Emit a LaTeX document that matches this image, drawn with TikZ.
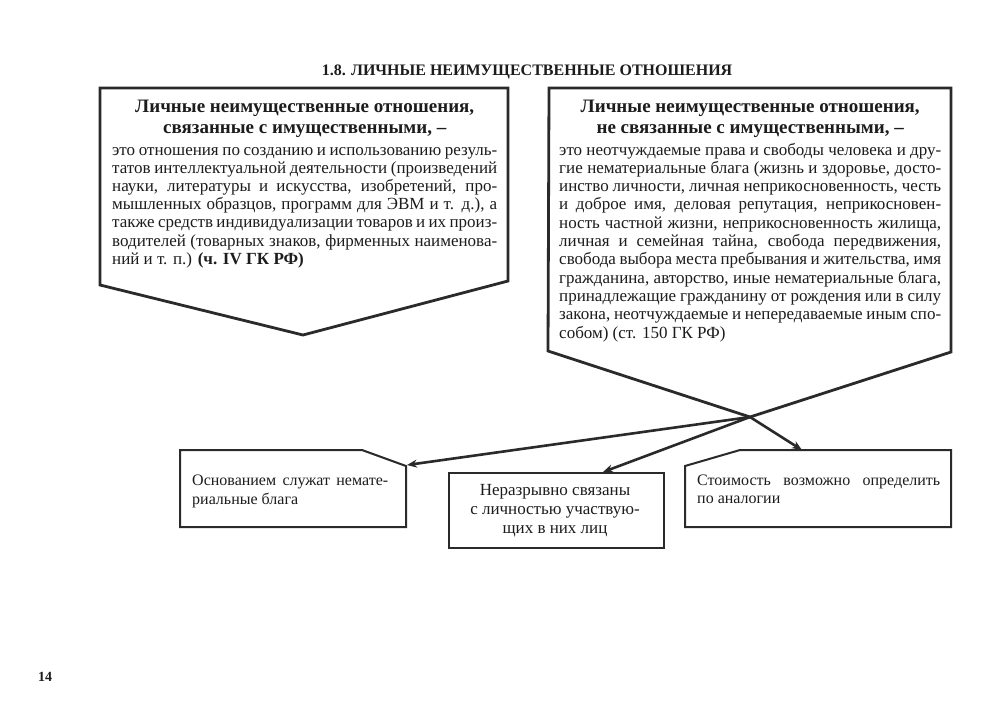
\documentclass[tikz,border=0pt]{standalone}
\usepackage{fontspec}
\setmainfont{Liberation Serif}
\usetikzlibrary{arrows.meta}
\definecolor{ink}{HTML}{2A2A2A}
\definecolor{txt}{HTML}{1C1C1C}
\newcommand{\jstl}[1]{\hbox to \hsize{#1}}
\newcommand{\ctrl}[1]{\hbox to \hsize{\hss#1\hss}}
\newcommand{\lftl}[1]{\hbox to \hsize{#1\hfil}}
\newcommand{\blk}[2]{\vtop{\hsize=#1\relax\parindent=0pt\lineskiplimit=-30pt\lineskip=0pt #2}}
\tikzset{
  pent/.style={draw=ink, line width=2.8pt, line join=miter, fill=white},
  boxline/.style={draw=ink, line width=2pt, line join=miter},
  conn/.style={draw=ink, line width=2.6pt, -{Stealth[length=10pt,width=8pt]}},
  txtnode/.style={inner sep=0pt, text=txt, anchor=base west},
}
\begin{document}
\begin{tikzpicture}[x=1pt,y=-1pt]
\useasboundingbox[fill=white] (0,0) rectangle (1000,710);

% title
\node[inner sep=0pt, text=txt, anchor=base, font=\fontsize{16}{19}\selectfont\bfseries] (title) at (527,75) {1.8. ЛИЧНЫЕ НЕИМУЩЕСТВЕННЫЕ ОТНОШЕНИЯ};

% left pentagon
\coordinate (apexL) at (303,335);
\draw[pent] (100,88) -- (508,88) -- (508,281) -- (apexL) -- (100,285) -- cycle;
\node[txtnode] (ltext) at (112,112) {\blk{385pt}{%
  \fontsize{19}{21}\selectfont\bfseries\baselineskip=21pt
  \ctrl{Личные неимущественные отношения,}
  \ctrl{связанные с имущественными, –}
  \fontsize{17}{18}\selectfont\mdseries\baselineskip=22pt
  \jstl{это отношения по созданию и использованию резуль-}
  \baselineskip=18.2pt
  \jstl{татов интеллектуальной деятельности (произведений}
  \jstl{науки, литературы и искусства, изобретений, про-}
  \jstl{мышленных образцов, программ для ЭВМ и т. д.), а}
  \jstl{также средств индивидуализации товаров и их произ-}
  \jstl{водителей (товарных знаков, фирменных наименова-}
  \lftl{ний и т. п.) \textbf{(ч. IV ГК РФ)}}}};

% right pentagon
\coordinate (apexR) at (750,417);
\draw[pent] (549,88) -- (951,88) -- (951,352) -- (apexR) -- (548,351) -- cycle;
\node[txtnode] (rtext) at (559,112) {\blk{382pt}{%
  \fontsize{19}{21}\selectfont\bfseries\baselineskip=21pt
  \ctrl{Личные неимущественные отношения,}
  \ctrl{не связанные с имущественными, –}
  \fontsize{17}{18}\selectfont\mdseries\baselineskip=22pt
  \jstl{это неотчуждаемые права и свободы человека и дру-}
  \baselineskip=18.3pt
  \jstl{гие нематериальные блага (жизнь и здоровье, досто-}
  \jstl{инство личности, личная неприкосновенность, честь}
  \jstl{и доброе имя, деловая репутация, неприкосновен-}
  \jstl{ность частной жизни, неприкосновенность жилища,}
  \jstl{личная и семейная тайна, свобода передвижения,}
  \jstl{свобода выбора места пребывания и жительства, имя}
  \jstl{гражданина, авторство, иные нематериальные блага,}
  \jstl{принадлежащие гражданину от рождения или в силу}
  \jstl{закона, неотчуждаемые и непередаваемые иным спо-}
  \lftl{собом) (ст. 150 ГК РФ)}}};

% bottom boxes
\draw[boxline] (180,450) -- (362,450) -- (406,466) -- (406,527) -- (180,527) -- cycle;
\coordinate (t1) at (407,465);
\node[txtnode] (b1text) at (192,485) {\blk{196pt}{%
  \fontsize{16}{18}\selectfont\baselineskip=19pt
  \jstl{Основанием служат немате-}
  \lftl{риальные блага}}};

\node[boxline, draw, minimum width=215pt, minimum height=75pt, anchor=north west, inner sep=0pt] (b2) at (448,472) {};
\coordinate (t2) at (603,472);
\node[inner sep=0pt, text=txt, anchor=base] (b2text) at (555,495) {\blk{205pt}{%
  \fontsize{17}{18}\selectfont\baselineskip=19pt
  \ctrl{Неразрывно связаны}
  \ctrl{с личностью участвую-}
  \ctrl{щих в них лиц}}};

\draw[boxline] (685,466) -- (740,450) -- (951,450) -- (951,527) -- (685,527) -- cycle;
\coordinate (t3) at (802,450);
\node[txtnode] (b3text) at (697,485) {\blk{243pt}{%
  \fontsize{16}{18}\selectfont\baselineskip=18.5pt
  \jstl{Стоимость возможно определить}
  \lftl{по аналогии}}};

% connectors
\draw[conn] (apexR) -- (t1);
\draw[conn] (apexR) -- (t2);
\draw[conn] (apexR) -- (t3);

% page number
\node[inner sep=0pt, text=txt, anchor=base, font=\fontsize{14}{16}\selectfont\bfseries] (pg) at (45,681) {14};
\end{tikzpicture}
\end{document}
